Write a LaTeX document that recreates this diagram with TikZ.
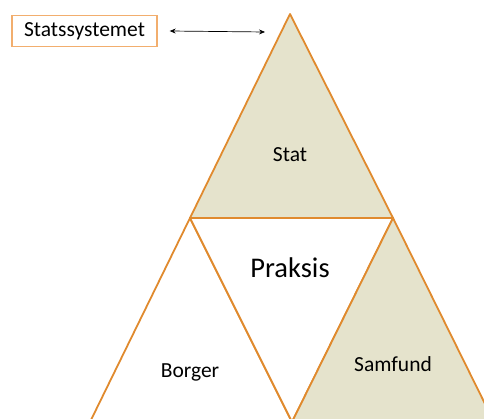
\documentclass[tikz,border=0pt]{standalone}
\usepackage{fontspec}
\setmainfont{Carlito}
\usetikzlibrary{arrows.meta}

\definecolor{edgeorange}{HTML}{E08A2E}
\definecolor{boxorange}{HTML}{F2AE6E}
\definecolor{beige}{HTML}{E5E3CC}

\tikzset{
	tri/.style={draw=edgeorange, line width=1.8pt, line join=round},
	lbl/.style={font=\fontsize{21.5}{24}\selectfont},
}

\begin{document}
\begin{tikzpicture}[x=1pt,y=-1pt]
			\useasboundingbox (0,0) rectangle (484,419);
			\clip (0,0) rectangle (484,419);
			% vertices
			\coordinate (top) at (290,14);
			\coordinate (ml) at (190,218);
			\coordinate (mr) at (393,218);
			\coordinate (bl) at (90,422);
			\coordinate (bm) at (292,422);
			\coordinate (br) at (494,422);
			% triangles
			\draw[tri, fill=beige] (top) -- (ml) -- (mr) -- cycle;
			\draw[tri, fill=white] (ml) -- (bl) -- (bm) -- cycle;
			\draw[tri, fill=white] (ml) -- (mr) -- (bm) -- cycle;
			\draw[tri, fill=beige] (mr) -- (bm) -- (br) -- cycle;
			% labels
			\node[lbl] (stat) at (290,155) {Stat};
			\node[font=\fontsize{28.5}{32}\selectfont] (praksis) at (290,268) {Praksis};
			\node[lbl] (borger) at (190,372) {Borger};
			\node[lbl] (samfund) at (393,364) {Samfund};
			\node[lbl, draw=boxorange, line width=1.4pt, minimum width=145pt, minimum height=31pt, inner sep=0pt] (system) at (84.5,31) {Statssystemet};
			\coordinate (pil) at (265,32);
			\draw[{Stealth[length=6pt,width=5pt]}-{Stealth[length=6pt,width=5pt]}, line width=0.7pt] ([xshift=12pt]system.east) -- (pil);
		\end{tikzpicture}
\end{document}
